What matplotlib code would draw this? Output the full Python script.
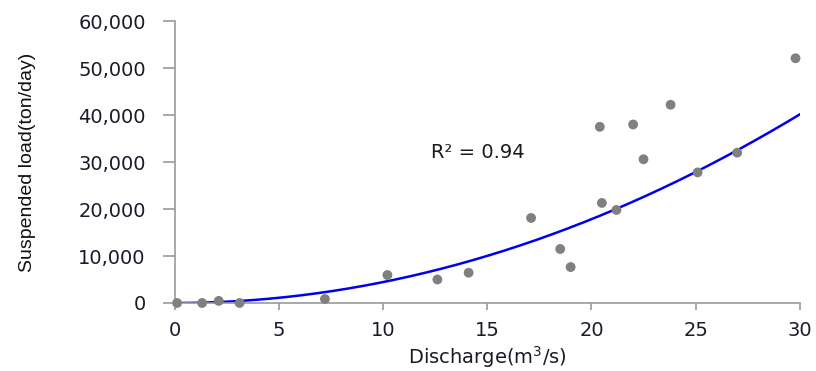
import numpy as np
import matplotlib
matplotlib.use('Agg')
import matplotlib.pyplot as plt
from matplotlib.ticker import FuncFormatter

# discharge (m3/s) and suspended load (ton/day)
discharge = [0.1, 1.3, 2.1, 3.1, 7.2, 10.2, 12.6, 14.1, 17.1, 18.5, 19.0,
             20.4, 20.5, 21.2, 22.0, 22.5, 23.8, 25.1, 27.0, 29.8]
load = [0, 0, 450, 0, 850, 5950, 5000, 6450, 18100, 11500, 7650,
        37500, 21300, 19800, 38000, 30600, 42200, 27800, 32000, 52100]

# trendline as drawn in the picture: load = a * discharge^b
trend_a = 44.6
trend_b = 2.0

xticks = [0, 5, 10, 15, 20, 25, 30]
yticks = [0, 10000, 20000, 30000, 40000, 50000, 60000]
r2_text = 'R² = 0.94'

x = np.array(discharge)
y = np.array(load)
xs = np.linspace(0, 30, 200)
ys = trend_a * xs ** trend_b

fig = plt.figure(figsize=(8.16, 3.71), dpi=100)
ax = fig.add_axes([0.2145, 0.1833, 0.7655, 0.7597])

ax.scatter(x, y, s=50, color='#808080', zorder=3, edgecolors='none', clip_on=False)
ax.plot(xs, ys, color='#0000ee', lw=1.8, zorder=2)

ax.set_xlim(0, 30)
ax.set_ylim(0, 60000)
ax.set_xticks(xticks)
ax.set_yticks(yticks)
ax.yaxis.set_major_formatter(FuncFormatter(lambda v, p: '{:,.0f}'.format(v)))

for s in ['top', 'right']:
    ax.spines[s].set_visible(False)
for s in ['left', 'bottom']:
    ax.spines[s].set_color('#999999')
    ax.spines[s].set_linewidth(1.2)
ax.tick_params(axis='both', color='#999999', width=1.2,
               labelsize=14, labelcolor='#1a1a2a')
ax.tick_params(axis='y', length=9, pad=12)
ax.tick_params(axis='x', length=5, pad=8)

ax.text(12.3, 32100, r2_text, fontsize=14, color='#1a1a1a', va='center')

ax.set_xlabel('Discharge(m$^3$/s)', fontsize=14, color='#1a1a2a', labelpad=3)
ax.set_ylabel('Suspended load(ton/day)', fontsize=14,
              family=['Liberation Sans', 'DejaVu Sans'], color='#111111')
ax.yaxis.set_label_coords(-0.222, 0.5)

fig.savefig('out.png', dpi=100)
